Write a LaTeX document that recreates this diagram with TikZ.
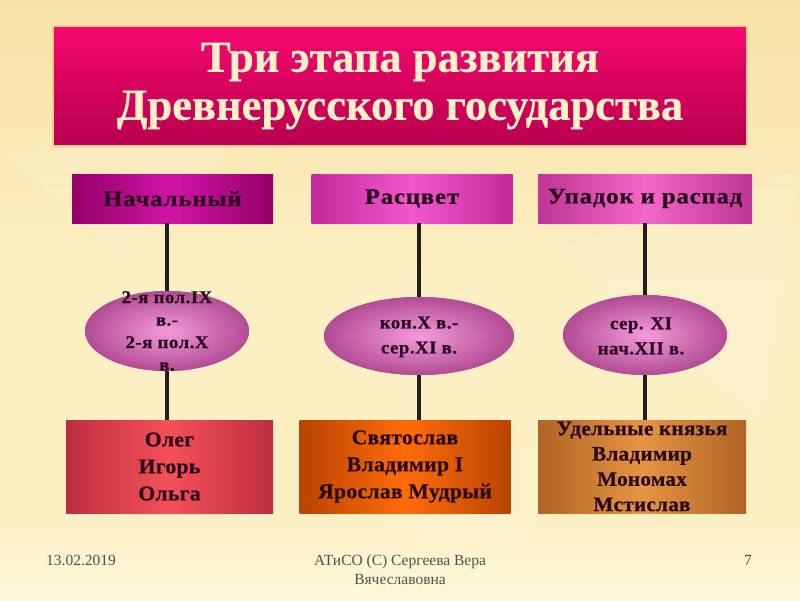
\documentclass[tikz,border=0pt]{standalone}
\usepackage{fontspec}
\setmainfont{Liberation Serif}
\newfontfamily\titlefont[FakeBold=0.5]{Liberation Serif Bold}
\newfontfamily\headfont[FakeStretch=1.12,LetterSpace=4,FakeBold=0.7]{Liberation Serif Bold}
\newfontfamily\ellfont[FakeStretch=1.05,LetterSpace=2.5,FakeBold=0.6]{Liberation Serif Bold}
\newfontfamily\boxfont[FakeStretch=1.03,LetterSpace=1.5,FakeBold=0.6]{Liberation Serif Bold}
\usetikzlibrary{shapes.geometric}
\definecolor{bgtop}{HTML}{F8E2A8}
\definecolor{bgmid}{HTML}{FCEFC4}
\definecolor{bgfoot}{HTML}{FEF8DA}
\definecolor{titletop}{HTML}{F5086E}
\definecolor{titlebot}{HTML}{B8004E}
\definecolor{titletext}{HTML}{FFF0C8}
\definecolor{hAedge}{HTML}{940068}
\definecolor{hAmid}{HTML}{D014A6}
\definecolor{hBedge}{HTML}{C22A9C}
\definecolor{hBmid}{HTML}{F258CC}
\definecolor{hCedge}{HTML}{BE3496}
\definecolor{hCmid}{HTML}{F468C6}
\definecolor{darktext}{HTML}{2A0A1E}
\definecolor{ellin}{HTML}{F49ADA}
\definecolor{ellout}{HTML}{B24C94}
\definecolor{bAedge}{HTML}{BE2E40}
\definecolor{bAmid}{HTML}{F45058}
\definecolor{bBedge}{HTML}{B84400}
\definecolor{bBmid}{HTML}{FF6C08}
\definecolor{bCedge}{HTML}{B06424}
\definecolor{bCmid}{HTML}{E69444}
\definecolor{foottext}{HTML}{505050}
\begin{document}
\begin{tikzpicture}[x=1pt,y=-1pt,
  titlebox/.style={draw=titletext!70!orange,line width=1.2pt,top color=titletop,bottom color=titlebot,
    minimum width=694,minimum height=120,inner sep=0pt,align=center,text=titletext,
    font=\titlefont\fontsize{44.5}{48}\selectfont},
  headbox/.style={minimum width=201,minimum height=49,inner sep=0pt,text=darktext,
    font=\headfont\fontsize{22}{24}\selectfont},
  ellnode/.style={ellipse,inner sep=0pt,inner color=ellin,outer color=ellout},
  elltext/.style={align=center,text=darktext,inner sep=0pt,
    font=\ellfont\fontsize{18}{22.5}\selectfont},
  lowbox/.style={minimum height=93,inner sep=0pt,align=center,text=darktext,
    font=\boxfont\fontsize{21}{27}\selectfont},
  conn/.style={line width=3.5pt,draw=black!88},
  foot/.style={text=foottext,font=\fontsize{15.5}{20}\selectfont,inner sep=0pt,align=center}]
\useasboundingbox (0,0) rectangle (800,600);
% background
\shade[top color=bgtop,bottom color=bgmid] (0,0) rectangle (800,300);
\fill[bgmid] (0,300) rectangle (800,520);
\shade[top color=bgmid,bottom color=bgfoot] (0,520) rectangle (800,600);
\fill[white,opacity=0.1] (0,150) -- (260,120) -- (120,260) -- cycle;
\fill[white,opacity=0.1] (560,250) -- (800,170) -- (760,420) -- cycle;
\fill[white,opacity=0.08] (380,520) -- (560,430) -- (520,560) -- cycle;
% title
\node[titlebox] (title) at (400,86) {Три этапа развития\\Древнерусского государства};
% headers
\node[headbox,left color=hAedge,right color=hAedge,middle color=hAmid] (h1) at (172.5,198.5) {Начальный};
\node[headbox,left color=hBedge,right color=hBedge,middle color=hBmid] (h2) at (412,198.5) {Расцвет};
\node[headbox,minimum width=214,left color=hCedge,right color=hCedge,middle color=hCmid] (h3) at (645,198.5) {Упадок и распад};
% bottom boxes
\node[lowbox,minimum width=207,left color=bAedge,right color=bAedge,middle color=bAmid] (b1) at (169.5,466.5) {Олег\\Игорь\\Ольга};
\node[lowbox,minimum width=211,left color=bBedge,right color=bBedge,middle color=bBmid] (b2) at (405,466.5) {Святослав\\Владимир I\\Ярослав Мудрый};
\node[lowbox,minimum width=208,left color=bCedge,right color=bCedge,middle color=bCmid,
  font=\boxfont\fontsize{20.5}{25.3}\selectfont] (b3) at (642,466.5) {Удельные князья\\Владимир\\Мономах\\Мстислав};
% ellipse shapes (size only)
\node[ellnode,minimum width=164,minimum height=80] (e1) at (167,331) {};
\node[ellnode,minimum width=190,minimum height=78] (e2) at (419,336) {};
\node[ellnode,minimum width=164,minimum height=80] (e3) at (645,335) {};
% connectors
\draw[conn] (e1.north |- h1.south) -- (e1.north);
\draw[conn] (e1.south) -- (e1.south |- b1.north);
\draw[conn] (e2.north |- h2.south) -- (e2.north);
\draw[conn] (e2.south) -- (e2.south |- b2.north);
\draw[conn] (e3.north |- h3.south) -- (e3.north);
\draw[conn] (e3.south) -- (e3.south |- b3.north);
% redraw ellipses over connector ends
\node[ellnode,minimum width=164,minimum height=80] at (e1) {};
\node[ellnode,minimum width=190,minimum height=78] at (e2) {};
\node[ellnode,minimum width=164,minimum height=80] at (e3) {};
% ellipse texts
\node[elltext] (t1) at (167,331) {2-я пол.IX\\в.-\\2-я пол.X\\в.};
\node[elltext,font=\ellfont\fontsize{18}{25}\selectfont] (t2) at (419,337) {кон.X в.-\\сер.XI в.};
\node[elltext,font=\ellfont\fontsize{18}{25}\selectfont] (t3) at (641,336) {сер. XI\\нач.XII в.};
% footer
\node[foot,anchor=base] (date) at (81,565) {13.02.2019};
\node[foot,anchor=base] (auth) at (400,565) {АТиСО (С) Сергеева Вера};
\node[foot,anchor=base] (auth2) at (400,584) {Вячеславовна};
\node[foot,anchor=base east] (num) at (752,565) {7};
\end{tikzpicture}
\end{document}
